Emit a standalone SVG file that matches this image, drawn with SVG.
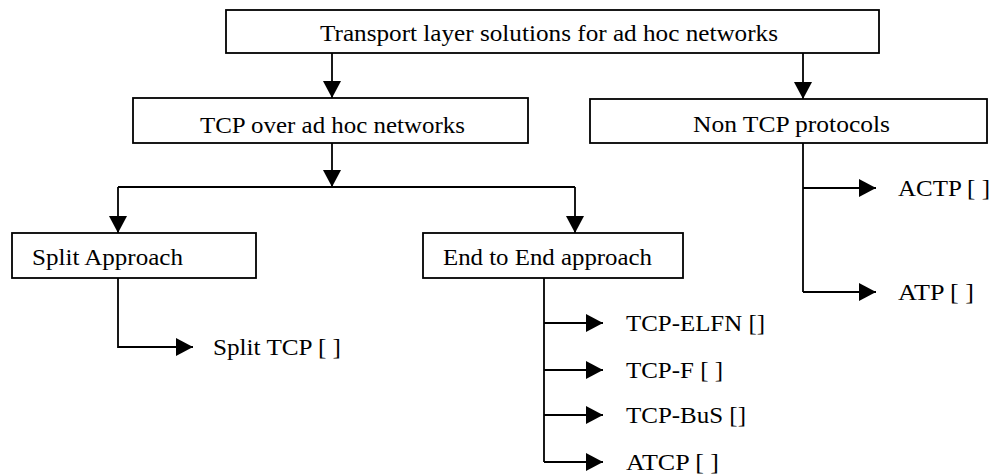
<svg xmlns="http://www.w3.org/2000/svg" width="996" height="476" viewBox="0 0 996 476">
<style>
.box{fill:#fff;stroke:#000;stroke-width:1.8}
.t{font-family:"Liberation Serif","Times New Roman",serif;font-size:23px;fill:#000}
.c{fill:none;stroke:#000;stroke-width:1.8}
</style>
<defs>
<marker id="ah" markerUnits="userSpaceOnUse" markerWidth="17" markerHeight="18" viewBox="0 0 17 18" refX="17" refY="9" orient="auto">
<path d="M0,0 L17,9 L0,18 Z" fill="#000"/>
</marker>
</defs>
<rect width="996" height="476" fill="#fff"/>
<g id="connectors">
<path class="c" d="M332,53 V98" marker-end="url(#ah)"/>
<path class="c" d="M803,53 V99" marker-end="url(#ah)"/>
<path class="c" d="M332,143 V187" marker-end="url(#ah)"/>
<path class="c" d="M118,187 H575"/>
<path class="c" d="M118,187 V233" marker-end="url(#ah)"/>
<path class="c" d="M575,187 V233" marker-end="url(#ah)"/>
<path class="c" d="M118,278 V347 H193" marker-end="url(#ah)"/>
<path class="c" d="M544,278 V462"/>
<path class="c" d="M544,323 H603" marker-end="url(#ah)"/>
<path class="c" d="M544,370 H603" marker-end="url(#ah)"/>
<path class="c" d="M544,415 H603" marker-end="url(#ah)"/>
<path class="c" d="M544,462 H603" marker-end="url(#ah)"/>
<path class="c" d="M803,143 V292"/>
<path class="c" d="M803,188 H876" marker-end="url(#ah)"/>
<path class="c" d="M803,292 H876" marker-end="url(#ah)"/>
</g>
<g id="root">
<rect class="box" x="226" y="10" width="653" height="43"/>
<text class="t" x="320" y="41" textLength="458" lengthAdjust="spacingAndGlyphs">Transport layer solutions for ad hoc networks</text>
</g>
<g id="tcp">
<rect class="box" x="133" y="98" width="395" height="45"/>
<text class="t" x="200" y="133" textLength="265" lengthAdjust="spacingAndGlyphs">TCP over ad hoc networks</text>
</g>
<g id="nontcp">
<rect class="box" x="590" y="99" width="397" height="44"/>
<text class="t" x="693" y="132" textLength="197" lengthAdjust="spacingAndGlyphs">Non TCP protocols</text>
</g>
<g id="split">
<rect class="box" x="12" y="233" width="244" height="45"/>
<text class="t" x="32" y="265" textLength="151" lengthAdjust="spacingAndGlyphs">Split Approach</text>
</g>
<g id="e2e">
<rect class="box" x="423" y="233" width="260" height="45"/>
<text class="t" x="443" y="265" textLength="209" lengthAdjust="spacingAndGlyphs">End to End approach</text>
</g>
<g id="splittcp"><text class="t" x="213" y="355" textLength="128" lengthAdjust="spacingAndGlyphs">Split TCP [ ]</text></g>
<g id="elfn"><text class="t" x="626" y="331" textLength="139" lengthAdjust="spacingAndGlyphs">TCP-ELFN []</text></g>
<g id="tcpf"><text class="t" x="626" y="378" textLength="97" lengthAdjust="spacingAndGlyphs">TCP-F [ ]</text></g>
<g id="bus"><text class="t" x="626" y="423" textLength="120" lengthAdjust="spacingAndGlyphs">TCP-BuS []</text></g>
<g id="atcp"><text class="t" x="626" y="470" textLength="93" lengthAdjust="spacingAndGlyphs">ATCP [ ]</text></g>
<g id="actp"><text class="t" x="898" y="196" textLength="92" lengthAdjust="spacingAndGlyphs">ACTP [ ]</text></g>
<g id="atp"><text class="t" x="898" y="300" textLength="76" lengthAdjust="spacingAndGlyphs">ATP [ ]</text></g>
</svg>
